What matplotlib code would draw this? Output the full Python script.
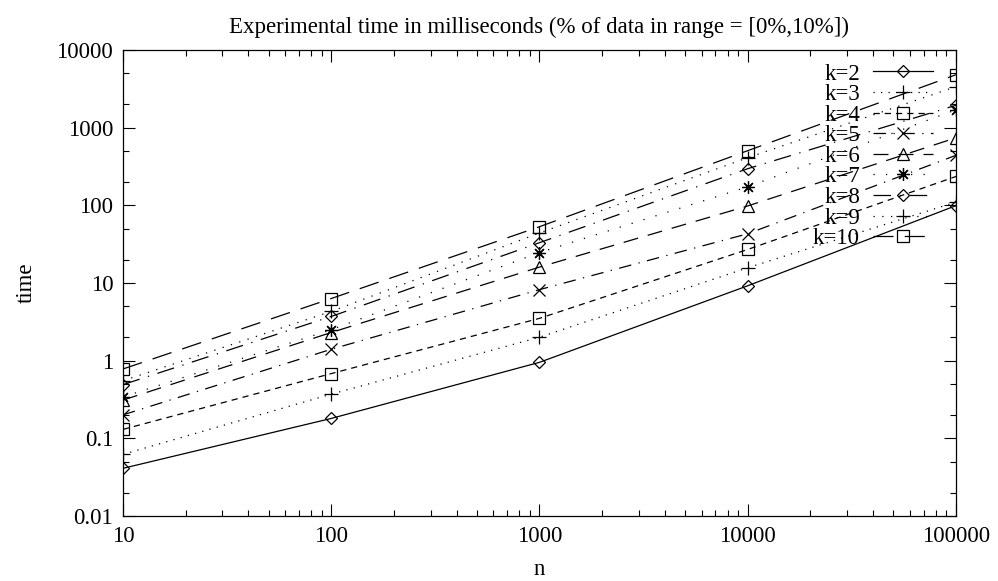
import numpy as np
import matplotlib
matplotlib.use("Agg")
import matplotlib.pyplot as plt
from matplotlib.ticker import LogLocator, FixedLocator, NullFormatter

# problem sizes and measured times (ms) for each k
n_values = [10, 100, 1000, 10000, 100000]
k_labels = ["k=2", "k=3", "k=4", "k=5", "k=6", "k=7", "k=8", "k=9", "k=10"]
time_k2 = [0.041, 0.18, 0.95, 9.2, 99]
time_k3 = [0.062, 0.37, 2.0, 15.7, 110]
time_k4 = [0.13, 0.68, 3.5, 27, 235]
time_k5 = [0.20, 1.4, 8.2, 43, 440]
time_k6 = [0.31, 2.3, 16, 98, 740]
time_k7 = [0.34, 2.5, 24.6, 173, 1700]
time_k8 = [0.49, 3.7, 33, 296, 1940]
time_k9 = [0.55, 4.3, 44, 410, 3370]
time_k10 = [0.78, 6.3, 53, 505, 4800]

series = [time_k2, time_k3, time_k4, time_k5, time_k6,
          time_k7, time_k8, time_k9, time_k10]

# gnuplot-like point and dash cycle
markers = ["D", "+", "s", "x", "^", (8, 2, 0), "D", "+", "s"]
msizes = [6.5, 10, 8.5, 8.5, 9, 9, 6.5, 10, 8.5]
dashes = [
    "-",
    (0, (1, 5)),
    (0, (5, 4)),
    (0, (10, 6, 1, 6)),
    (0, (12, 8)),
    (0, (1, 9)),
    (0, (14, 7, 1, 7)),
    (0, (1, 6)),
    (0, (16, 9)),
]

FS = 16.5
plt.rcParams["font.family"] = ["Liberation Serif", "DejaVu Serif"]
plt.rcParams["font.size"] = FS

fig = plt.figure(figsize=(9.98, 5.81), dpi=100)
ax = fig.add_axes([0.1232, 0.112, 0.8347, 0.802])

for vals, lab, mk, ms, ls in zip(series, k_labels, markers, msizes, dashes):
    ax.plot(n_values, vals, color="black", linewidth=0.9, linestyle=ls,
            marker=mk, markersize=ms, markerfacecolor="none",
            markeredgecolor="black", markeredgewidth=0.9, label=lab)

ax.set_xscale("log")
ax.set_yscale("log")
ax.set_xlim(10, 100000)
ax.set_ylim(0.01, 10000)

ax.xaxis.set_major_locator(FixedLocator([10, 100, 1000, 10000, 100000]))
ax.xaxis.set_minor_locator(LogLocator(base=10, subs=np.arange(2, 10), numticks=20))
ax.set_xticklabels(["10", "100", "1000", "10000", "100000"])
ax.yaxis.set_major_locator(FixedLocator([0.01, 0.1, 1, 10, 100, 1000, 10000]))
ax.yaxis.set_minor_locator(LogLocator(base=10, subs=[2, 5], numticks=20))
ax.set_yticklabels(["0.01", "0.1", "1", "10", "100", "1000", "10000"])
ax.xaxis.set_minor_formatter(NullFormatter())
ax.yaxis.set_minor_formatter(NullFormatter())

ax.tick_params(which="both", direction="in", top=True, right=True,
               width=0.8, labelsize=FS)
ax.tick_params(which="major", length=8.5, pad=7)
ax.tick_params(which="minor", length=4.3)
for sp in ax.spines.values():
    sp.set_linewidth(0.9)

ax.set_xlabel("n", fontsize=FS, labelpad=9)
ax.set_ylabel("time", fontsize=FS, labelpad=14)
ax.set_title("Experimental time in milliseconds (% of data in range = [0%,10%])",
             fontsize=FS, pad=12)

leg = ax.legend(loc="upper right", bbox_to_anchor=(0.972, 0.971),
                frameon=False, markerfirst=False, handlelength=2.6,
                handletextpad=0.57, labelspacing=-0.02, borderpad=0,
                borderaxespad=0, fontsize=FS)
# right-align the legend labels like gnuplot's key
for col in leg._legend_box.get_children()[1].get_children():
    col.align = "right"

fig.savefig("out.png", dpi=100)
